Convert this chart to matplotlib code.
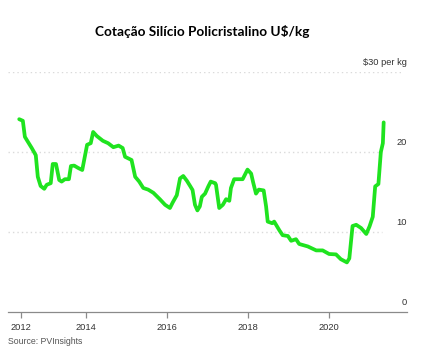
import matplotlib
matplotlib.use("Agg")
import matplotlib.pyplot as plt

plt.rcParams['font.family'] = ['Liberation Sans', 'DejaVu Sans']

# Data (decimal years, US$/kg)
years = [2012.34, 2012.43, 2012.48, 2012.54, 2012.65, 2012.75, 2012.80, 2012.87, 2012.96,
         2013.02, 2013.12, 2013.17, 2013.25, 2013.33, 2013.39, 2013.47, 2013.57, 2013.62,
         2013.70, 2013.80, 2013.90, 2014.02, 2014.11, 2014.17, 2014.26, 2014.41, 2014.54,
         2014.67, 2014.80, 2014.90, 2014.96, 2015.12, 2015.21, 2015.31, 2015.41, 2015.53,
         2015.66, 2015.82, 2015.95, 2016.07, 2016.14, 2016.24, 2016.32, 2016.40, 2016.49,
         2016.57, 2016.63, 2016.69, 2016.75, 2016.81, 2016.86, 2016.94, 2017.02, 2017.08,
         2017.19, 2017.21, 2017.29, 2017.38, 2017.46, 2017.54, 2017.58, 2017.66, 2017.87,
         2017.99, 2018.08, 2018.13, 2018.20, 2018.27, 2018.39, 2018.45, 2018.49, 2018.60,
         2018.65, 2018.78, 2018.86, 2018.99, 2019.07, 2019.19, 2019.27, 2019.48, 2019.69,
         2019.85, 2020.01, 2020.18, 2020.30, 2020.45, 2020.51, 2020.59, 2020.68, 2020.80,
         2020.93, 2021.01, 2021.09, 2021.15, 2021.23, 2021.29, 2021.34, 2021.36]
prices = [24.1, 23.9, 21.9, 21.4, 20.5, 19.6, 16.9, 15.75, 15.4,
          15.9, 16.1, 18.5, 18.5, 16.5, 16.3, 16.6, 16.6, 18.25,
          18.3, 18.0, 17.75, 20.9, 21.1, 22.5, 22.0, 21.4, 21.1,
          20.6, 20.8, 20.5, 19.4, 19.0, 16.9, 16.3, 15.5, 15.3,
          14.9, 14.1, 13.4, 13.0, 13.7, 14.6, 16.7, 17.0, 16.4,
          15.75, 15.25, 13.4, 12.7, 13.2, 14.4, 14.8, 15.7, 16.3,
          16.1, 15.9, 13.0, 13.4, 14.1, 13.9, 15.5, 16.6, 16.6,
          17.8, 17.3, 16.2, 14.8, 15.3, 15.2, 13.2, 11.3, 11.1,
          11.3, 10.2, 9.6, 9.5, 8.9, 9.1, 8.5, 8.2, 7.7,
          7.7, 7.25, 7.2, 6.6, 6.2, 6.7, 10.75, 10.9, 10.5,
          9.75, 10.7, 11.9, 15.7, 16.0, 20.0, 21.1, 23.7]

tick_pos = [2012.38, 2014, 2016, 2018, 2020]
tick_labels = ["2012", "2014", "2016", "2018", "2020"]
y_levels = [0, 10, 20, 30]
y_labels = ["0", "10", "20", "$30 per kg"]

W, H = 432, 355
fig = plt.figure(figsize=(W / 100, H / 100), dpi=100)
left, right = 8.3 / W, 406.7 / W
bottom, top = (H - 312) / H, (H - 72) / H
ax = fig.add_axes([left, bottom, right - left, top - bottom])
ax.set_xlim(2012.07, 2021.93)
ax.set_ylim(0, 30)

for s in ['top', 'right', 'left']:
    ax.spines[s].set_visible(False)
ax.spines['bottom'].set_color('#8a8a8a')
ax.spines['bottom'].set_linewidth(0.9)

grid_end = {10: 2021.33, 20: 2021.33, 30: 2021.84}
for lv in y_levels[1:]:
    ax.plot([2012.07, grid_end[lv]], [lv, lv], linestyle=(0, (1.0, 2.2)),
            color='#dadada', linewidth=1.0, zorder=1)

ax.plot(years, prices, color='#1fe31f', linewidth=2.7, solid_joinstyle='round',
        solid_capstyle='round', zorder=3, clip_on=False)

ax.set_xticks(tick_pos)
ax.set_xticklabels(tick_labels)
ax.tick_params(axis='x', direction='out', length=4, width=0.9, color='#8a8a8a',
               labelsize=6.7, labelcolor='#333333', pad=4)
ax.set_yticks([])

for lv, lab in zip(y_levels, y_labels):
    ax.annotate(lab, xy=(407 / W, lv), xycoords=('figure fraction', 'data'),
                xytext=(0, 6.6), textcoords='offset points', ha='right', va='center',
                fontsize=6.7, color='#333333')

fig.text(202.5 / W, 1 - 31 / H, "Cotação Silício Policristalino U$/kg",
         ha='center', va='center', fontsize=9.8, fontweight='bold',
         family=['Lato', 'DejaVu Sans'], color='black')
fig.text(8.3 / W, 1 - 342 / H, "Source: PVInsights", ha='left', va='center',
         fontsize=6.3, color='#555555')

fig.savefig("out.png", dpi=100)
